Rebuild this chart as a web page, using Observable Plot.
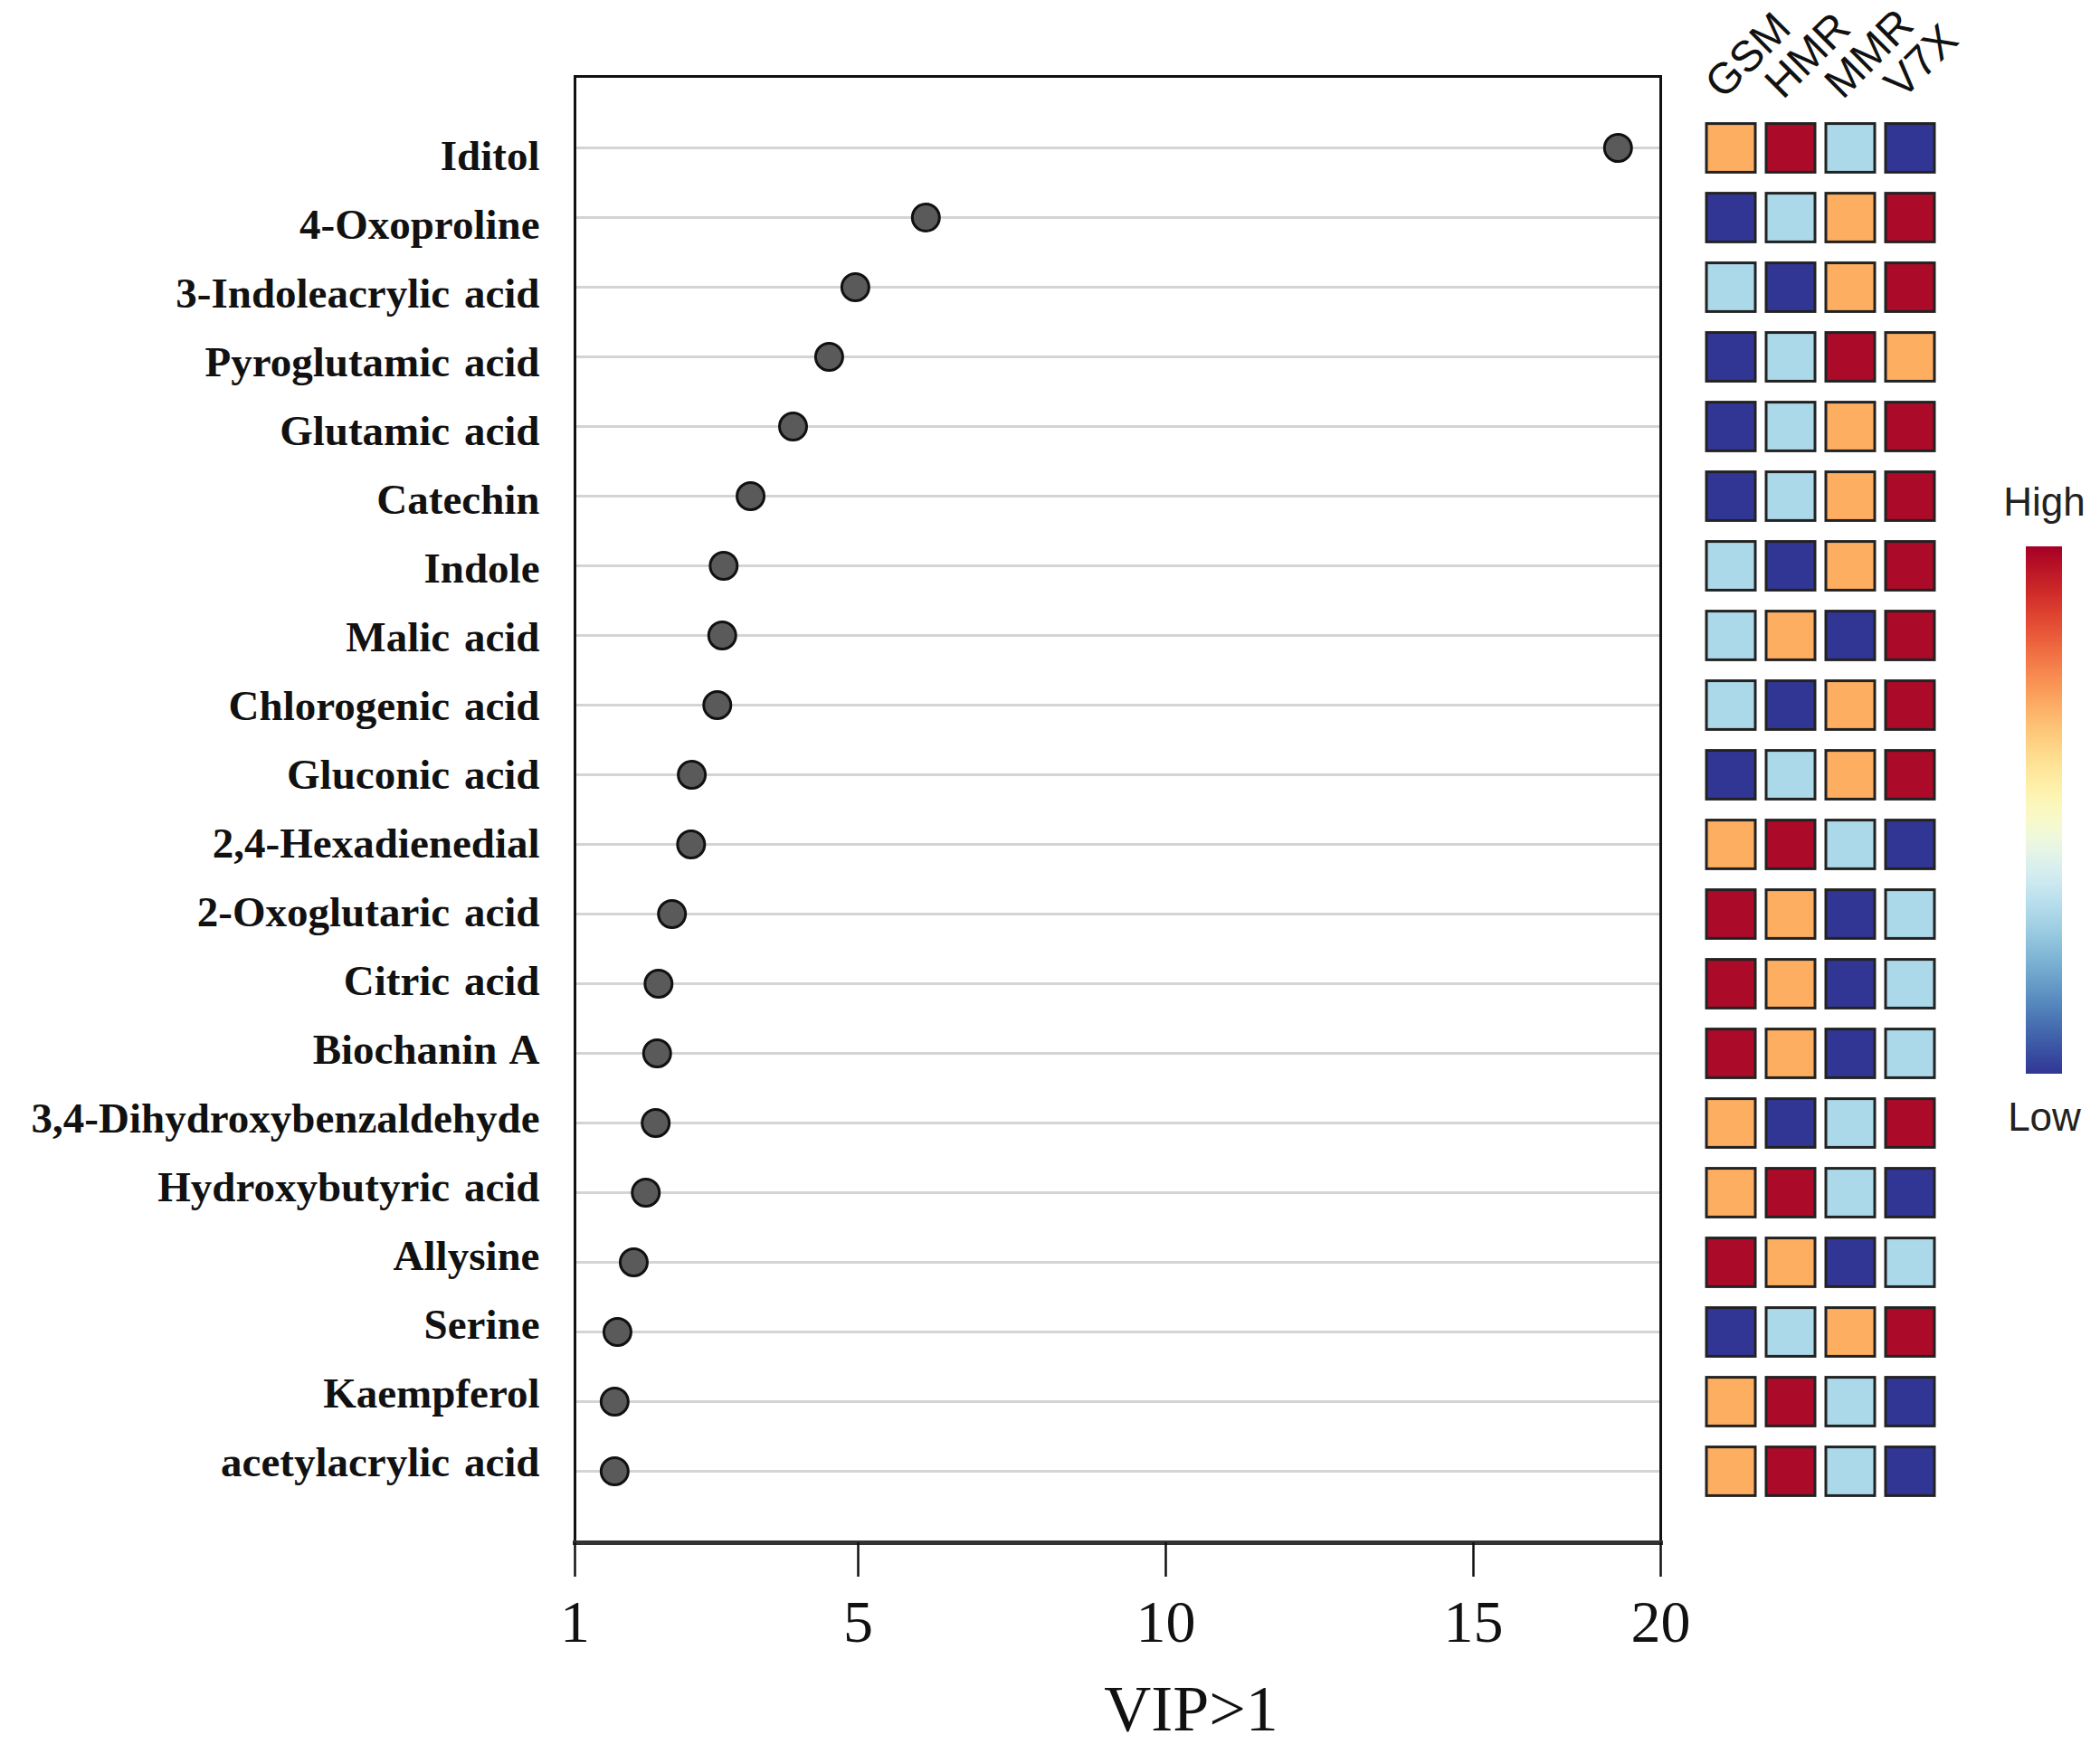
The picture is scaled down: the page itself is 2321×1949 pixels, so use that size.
<!DOCTYPE html>
<html><head><meta charset="utf-8">
<script src="https://cdn.jsdelivr.net/npm/d3@7"></script>
<script src="https://cdn.jsdelivr.net/npm/@observablehq/plot@0.6"></script>
<style>
html,body{margin:0;padding:0;background:#fff;}
#wrap{position:relative;width:2321px;height:1949px;overflow:hidden;background:#fff;}
#wrap svg{position:absolute;top:0;background:transparent;}
.ylab text{word-spacing:4px;}
</style></head><body><div id="wrap"></div>
<script>
const names = ["Iditol","4-Oxoproline","3-Indoleacrylic acid","Pyroglutamic acid","Glutamic acid","Catechin","Indole","Malic acid","Chlorogenic acid","Gluconic acid","2,4-Hexadienedial","2-Oxoglutaric acid","Citric acid","Biochanin A","3,4-Dihydroxybenzaldehyde","Hydroxybutyric acid","Allysine","Serine","Kaempferol","acetylacrylic acid"];
const vip = [18.86, 6.10, 4.96, 4.59, 4.08, 3.48, 3.10, 3.08, 3.01, 2.65, 2.64, 2.37, 2.18, 2.16, 2.14, 2.00, 1.83, 1.60, 1.56, 1.56];
const groups = ["GSM","HMR","MMR","V7X"];
// relative level per group: 1 = lowest ... 4 = highest
const gsm = [3,1,2,1,1,1,2,2,2,1,3,4,4,4,3,3,4,1,3,3];
const hmr = [4,2,1,2,2,2,1,3,1,2,4,3,3,3,1,4,3,2,4,4];
const mmr = [2,3,3,4,3,3,3,1,3,3,2,1,1,1,2,2,1,3,2,2];
const v7x = [1,4,4,3,4,4,4,4,4,4,1,2,2,2,4,1,2,4,1,1];
const xTicks = [1,5,10,15,20];
const levelColors = ["#313695","#abd9e9","#fdae61","#ab0a28"];

const wrap = document.getElementById("wrap");

// metabolite names (left labels)
const p0 = Plot.plot({
  width:640, height:1949, marginLeft:0, marginRight:44, marginTop:0, marginBottom:0,
  style:{fontFamily:"'Liberation Serif', 'Times New Roman', serif", background:"transparent", color:"#111"},
  y:{type:"point", domain:names, range:[162,1609], padding:0, axis:null},
  marks:[
    Plot.text(names, {y:d=>d, text:d=>d, frameAnchor:"right", textAnchor:"end", dy:8, fontSize:47, fontWeight:"bold", fill:"#111", className:"ylab"})
  ]
});
p0.style.left = "0px";
wrap.appendChild(p0);

const dots = names.map((n,i)=>({name:n, vip:vip[i]}));
const p1 = Plot.plot({
  width:1870, height:1949, marginLeft:635, marginRight:35, marginTop:84, marginBottom:244,
  style:{fontFamily:"'Liberation Serif', 'Times New Roman', serif", background:"transparent", color:"#111"},
  x:{type:"linear", domain:xTicks, range:[635,948,1288,1628,1835]},
  y:{type:"point", domain:names, padding:1, axis:null},
  marks:[
    Plot.ruleY(names, {stroke:"#d4d4d4", strokeWidth:3}),
    Plot.frame({stroke:"#111", strokeWidth:3}),
    Plot.frame({anchor:"bottom", stroke:"#333", strokeWidth:5}),
    Plot.dot(dots, {x:"vip", y:"name", r:15, fill:"#5a5a5a", stroke:"#111", strokeWidth:3}),
    Plot.axisX({ticks:xTicks, tickSize:38, tickPadding:25, fontSize:66, strokeWidth:2.5, label:null, tickFormat:d=>String(d)}),
    Plot.text(["VIP>1"], {text:d=>d, frameAnchor:"bottom", dx:81, dy:207, fontSize:72})
  ]
});
p1.style.left = "0px";
wrap.appendChild(p1);

const cells = [];
names.forEach((n,i)=>{ [gsm,hmr,mmr,v7x].forEach((arr,j)=>cells.push({name:n, group:groups[j], level:arr[i]})); });
const p2 = Plot.plot({
  width:360, height:1949, marginLeft:20, marginRight:76, marginTop:122.6, marginBottom:282.4,
  style:{fontFamily:"'Liberation Sans', Arial, sans-serif", background:"transparent", color:"#111"},
  x:{type:"band", domain:groups, padding:0, axis:null},
  y:{type:"band", domain:names, padding:0, axis:null},
  color:{type:"ordinal", domain:[1,2,3,4], range:levelColors},
  marks:[
    Plot.cell(cells, {x:"group", y:"name", fill:"level", stroke:"#222", strokeWidth:3, insetLeft:6, insetRight:6, insetTop:11.6, insetBottom:11.6}),
    Plot.text(groups, {x:d=>d, text:d=>d, frameAnchor:"top", rotate:-45, textAnchor:"start", lineAnchor:"bottom", dx:-9, dy:-12, fontSize:48, fill:"#111"})
  ]
});
p2.style.left = "1860px";
wrap.appendChild(p2);

const stops = d3.range(0, 1, 0.005);
const p3 = Plot.plot({
  width:141, height:1300, margin:0,
  style:{fontFamily:"'Liberation Sans', Arial, sans-serif", background:"transparent"},
  x:{domain:[0,1], range:[59,99], axis:null},
  y:{domain:[0,1], range:[1187,604], axis:null},
  color:{type:"linear", scheme:"RdYlBu", reverse:true, domain:[0,1]},
  marks:[
    Plot.rect(stops, {x1:0, x2:1, y1:d=>d, y2:d=>Math.min(1,d+0.007), fill:d=>d+0.0025}),
    Plot.text(["High"], {x:0.5, y:1, text:d=>d, lineAnchor:"bottom", dy:-35, fontSize:44, fill:"#222"}),
    Plot.text(["Low"], {x:0.5, y:0, text:d=>d, lineAnchor:"top", dy:31, fontSize:44, fill:"#222"})
  ]
});
p3.style.left = "2180px";
wrap.appendChild(p3);
</script></body></html>
